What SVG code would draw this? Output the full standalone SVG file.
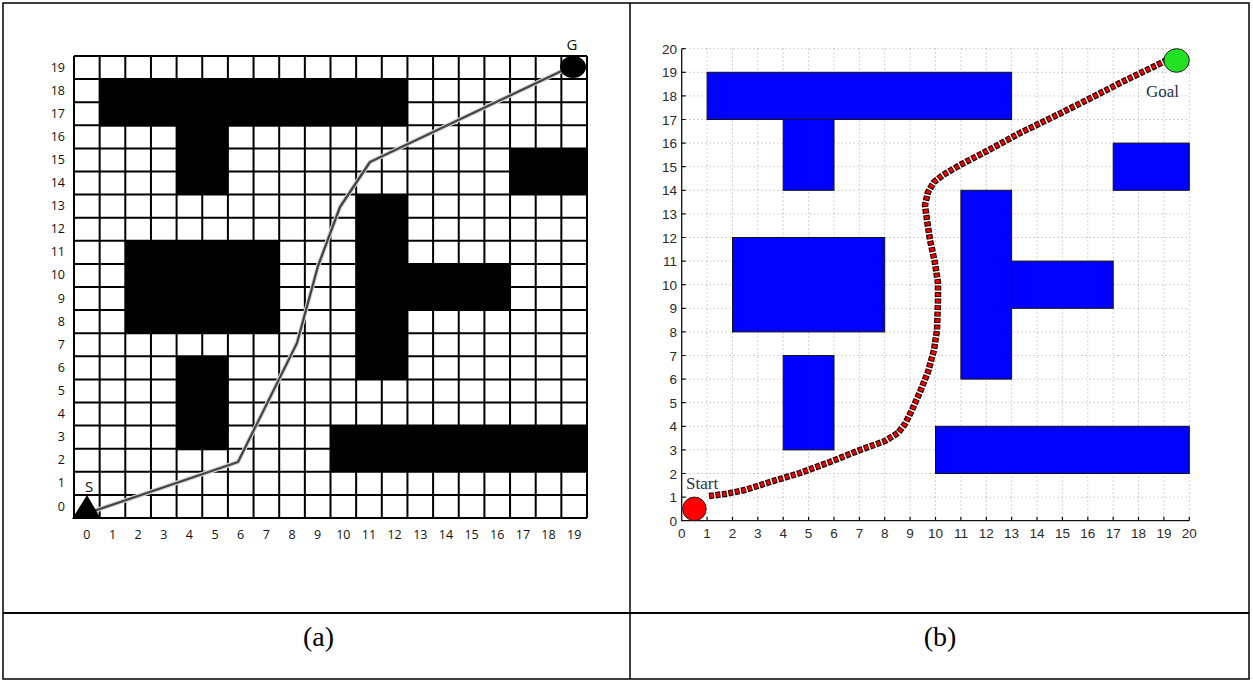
<svg xmlns="http://www.w3.org/2000/svg" width="1253" height="682" viewBox="0 0 1253 682">
<style>
.tbl{fill:none;stroke:#000;stroke-width:1.5}
.g{stroke:#000;stroke-width:2;fill:none}
.obs{fill:#000}
.lbl{font-family:"Open Sans","Liberation Sans",sans-serif;font-size:12.5px;fill:#111}
.big{font-size:15px}
.ax{font-family:"Liberation Sans",Arial,sans-serif;font-size:13.5px;fill:#2a2a2a}
.dot{stroke:#a8a8a8;stroke-width:1;stroke-dasharray:1 3;fill:none}
.blue{fill:#0000ff;stroke:#111;stroke-width:1}
.cap{font-family:"Liberation Serif","Times New Roman",serif;font-size:28px;fill:#000;text-anchor:middle}
.ser{font-family:"Liberation Serif","Times New Roman",serif;font-size:17px;fill:#26324a}
</style>
<rect x="0" y="0" width="1253" height="682" fill="#fff"/>
<g id="table">
<rect class="tbl" x="3" y="3" width="1246" height="676"/>
<line class="tbl" x1="630" y1="3" x2="630" y2="679"/>
<line x1="3" y1="613" x2="1249" y2="613" stroke="#000" stroke-width="2.2"/>
<text class="cap" x="318.5" y="646">(a)</text>
<text class="cap" x="940" y="646">(b)</text>
</g>
<g id="grid-a">
<path class="g" d="M74 56V518M99.65 56V518M125.3 56V518M150.95 56V518M176.6 56V518M202.25 56V518M227.9 56V518M253.55 56V518M279.2 56V518M304.85 56V518M330.5 56V518M356.15 56V518M381.8 56V518M407.45 56V518M433.1 56V518M458.75 56V518M484.4 56V518M510.05 56V518M535.7 56V518M561.35 56V518M587 56V518
M74 56H587M74 79.1H587M74 102.2H587M74 125.3H587M74 148.4H587M74 171.5H587M74 194.6H587M74 217.7H587M74 240.8H587M74 263.9H587M74 287H587M74 310.1H587M74 333.2H587M74 356.3H587M74 379.4H587M74 402.5H587M74 425.6H587M74 448.7H587M74 471.8H587M74 494.9H587M74 518H587"/>
</g>
<g id="obstacles-a">
<rect class="obs" x="99.65" y="79.1" width="307.8" height="47.5"/>
<rect class="obs" x="176.6" y="125.3" width="51.3" height="69.3"/>
<rect class="obs" x="510.05" y="148.4" width="76.95" height="46.2"/>
<rect class="obs" x="125.3" y="240.8" width="153.9" height="92.4"/>
<rect class="obs" x="356.15" y="194.6" width="51.3" height="184.8"/>
<rect class="obs" x="407.45" y="263.9" width="102.6" height="46.2"/>
<rect class="obs" x="176.6" y="356.3" width="51.3" height="94"/>
<rect class="obs" x="330.5" y="425.6" width="256.5" height="46.2"/>
</g>
<g id="labels-a" class="lbl">
<g text-anchor="end">
<text x="65" y="72">19</text><text x="65" y="95">18</text><text x="65" y="118">17</text><text x="65" y="141">16</text><text x="65" y="164">15</text><text x="65" y="187">14</text><text x="65" y="210">13</text><text x="65" y="233">12</text><text x="65" y="256">11</text><text x="65" y="279">10</text><text x="65" y="302.5">9</text><text x="65" y="325.5">8</text><text x="65" y="348.5">7</text><text x="65" y="371.5">6</text><text x="65" y="395">5</text><text x="65" y="418">4</text><text x="65" y="441">3</text><text x="65" y="464">2</text><text x="65" y="487">1</text><text x="65" y="510.5">0</text>
</g>
<g text-anchor="middle">
<text x="86.8" y="539">0</text><text x="112.5" y="539">1</text><text x="138.1" y="539">2</text><text x="163.8" y="539">3</text><text x="189.4" y="539">4</text><text x="215.1" y="539">5</text><text x="240.7" y="539">6</text><text x="266.4" y="539">7</text><text x="292" y="539">8</text><text x="317.7" y="539">9</text><text x="343.3" y="539">10</text><text x="369" y="539">11</text><text x="394.6" y="539">12</text><text x="420.3" y="539">13</text><text x="445.9" y="539">14</text><text x="471.6" y="539">15</text><text x="497.2" y="539">16</text><text x="522.9" y="539">17</text><text x="548.5" y="539">18</text><text x="574.2" y="539">19</text>
</g>
</g>
<g id="path-a">
<polyline points="88,513 238,462 297,343 318,266 340,207 370,162 570,67" fill="none" stroke="#d8d8d8" stroke-width="4.5" stroke-linejoin="round"/>
<polyline points="88,513 238,462 297,343 318,266 340,207 370,162 570,67" fill="none" stroke="#444" stroke-width="2.3" stroke-linejoin="round"/>
</g>
<g id="start-a">
<polygon points="87,495 72,519 101,519" fill="#000"/>
<text class="lbl big" x="89" y="492" text-anchor="middle">S</text>
</g>
<g id="goal-a">
<ellipse cx="573" cy="67" rx="13" ry="11" fill="#000"/>
<text class="lbl big" x="572" y="50" text-anchor="middle">G</text>
</g>
<g id="grid-b">
<path class="dot" d="M707.1 48.7V520.7M732.5 48.7V520.7M757.8 48.7V520.7M783.2 48.7V520.7M808.6 48.7V520.7M834 48.7V520.7M859.4 48.7V520.7M884.7 48.7V520.7M910.1 48.7V520.7M935.5 48.7V520.7M960.9 48.7V520.7M986.3 48.7V520.7M1011.6 48.7V520.7M1037 48.7V520.7M1062.4 48.7V520.7M1087.8 48.7V520.7M1113.2 48.7V520.7M1138.5 48.7V520.7M1163.9 48.7V520.7M1189.3 48.7V520.7
M681.7 497.1H1189.3M681.7 473.5H1189.3M681.7 449.9H1189.3M681.7 426.3H1189.3M681.7 402.7H1189.3M681.7 379.1H1189.3M681.7 355.5H1189.3M681.7 331.9H1189.3M681.7 308.3H1189.3M681.7 284.7H1189.3M681.7 261.1H1189.3M681.7 237.5H1189.3M681.7 213.9H1189.3M681.7 190.3H1189.3M681.7 166.7H1189.3M681.7 143.1H1189.3M681.7 119.5H1189.3M681.7 95.9H1189.3M681.7 72.3H1189.3M681.7 48.7H1189.3"/>
</g>
<g id="obstacles-b">
<rect class="blue" x="707.1" y="72.3" width="304.5" height="47.2"/>
<rect class="blue" x="783.2" y="119.5" width="50.8" height="70.8"/>
<rect class="blue" x="732.5" y="237.5" width="152.2" height="94.4"/>
<rect class="blue" x="783.2" y="355.5" width="50.8" height="94.4"/>
<rect class="blue" x="960.9" y="190.3" width="50.7" height="188.8"/>
<rect class="blue" x="1011.6" y="261.1" width="101.6" height="47.2"/>
<rect class="blue" x="1113.2" y="143.1" width="76.1" height="47.2"/>
<rect class="blue" x="935.5" y="426.3" width="253.8" height="47.2"/>
</g>
<g id="axes-b">
<path d="M681.7 48.7V520.7H1189.3" fill="none" stroke="#111" stroke-width="1.3"/>
<path d="M681.7 497.1h4M681.7 473.5h4M681.7 449.9h4M681.7 426.3h4M681.7 402.7h4M681.7 379.1h4M681.7 355.5h4M681.7 331.9h4M681.7 308.3h4M681.7 284.7h4M681.7 261.1h4M681.7 237.5h4M681.7 213.9h4M681.7 190.3h4M681.7 166.7h4M681.7 143.1h4M681.7 119.5h4M681.7 95.9h4M681.7 72.3h4M681.7 48.7h4
M707.1 520.7v-4M732.5 520.7v-4M757.8 520.7v-4M783.2 520.7v-4M808.6 520.7v-4M834 520.7v-4M859.4 520.7v-4M884.7 520.7v-4M910.1 520.7v-4M935.5 520.7v-4M960.9 520.7v-4M986.3 520.7v-4M1011.6 520.7v-4M1037 520.7v-4M1062.4 520.7v-4M1087.8 520.7v-4M1113.2 520.7v-4M1138.5 520.7v-4M1163.9 520.7v-4M1189.3 520.7v-4" stroke="#111" stroke-width="1.2"/>
<g class="ax" text-anchor="end">
<text x="677" y="525.5">0</text><text x="677" y="502">1</text><text x="677" y="478.5">2</text><text x="677" y="455">3</text><text x="677" y="431">4</text><text x="677" y="407.5">5</text><text x="677" y="384">6</text><text x="677" y="360.5">7</text><text x="677" y="337">8</text><text x="677" y="313">9</text><text x="677" y="289.5">10</text><text x="677" y="266">11</text><text x="677" y="242.5">12</text><text x="677" y="219">13</text><text x="677" y="195">14</text><text x="677" y="171.5">15</text><text x="677" y="148">16</text><text x="677" y="124.5">17</text><text x="677" y="101">18</text><text x="677" y="77">19</text><text x="677" y="53.5">20</text>
</g>
<g class="ax" text-anchor="middle">
<text x="681.7" y="538">0</text><text x="707.1" y="538">1</text><text x="732.5" y="538">2</text><text x="757.8" y="538">3</text><text x="783.2" y="538">4</text><text x="808.6" y="538">5</text><text x="834" y="538">6</text><text x="859.4" y="538">7</text><text x="884.7" y="538">8</text><text x="910.1" y="538">9</text><text x="935.5" y="538">10</text><text x="960.9" y="538">11</text><text x="986.3" y="538">12</text><text x="1011.6" y="538">13</text><text x="1037" y="538">14</text><text x="1062.4" y="538">15</text><text x="1087.8" y="538">16</text><text x="1113.2" y="538">17</text><text x="1138.5" y="538">18</text><text x="1163.9" y="538">19</text><text x="1189.3" y="538">20</text>
</g>
</g>
<g id="path-b">
<polyline points="709,496 725,494 745,490 770,482 800,473 830,462 860,450 885,441 898,433 905,424 912,410 920,392 928,372 934,350 937,330 938,300 938,283 935,263 930,240 927,220 925,205 928,192 934,182 943,175 960,165 987,151 1020,133 1053,117 1087,100 1120,83 1153,67 1167,60" fill="none" stroke="#300000" stroke-width="6.5" stroke-dasharray="5 1.5" stroke-linejoin="round"/>
<polyline points="709,496 725,494 745,490 770,482 800,473 830,462 860,450 885,441 898,433 905,424 912,410 920,392 928,372 934,350 937,330 938,300 938,283 935,263 930,240 927,220 925,205 928,192 934,182 943,175 960,165 987,151 1020,133 1053,117 1087,100 1120,83 1153,67 1167,60" fill="none" stroke="#f00000" stroke-width="4" stroke-dasharray="3.2 3.3" stroke-dashoffset="-0.9" stroke-linejoin="round"/>
</g>
<g id="start-b">
<circle cx="694.4" cy="508.9" r="11.8" fill="#ff0000" stroke="#222" stroke-width="1"/>
<text class="ser" x="686" y="489">Start</text>
</g>
<g id="goal-b">
<ellipse cx="1176.6" cy="60.5" rx="12.7" ry="11.8" fill="#22e022" stroke="#222" stroke-width="1"/>
<text class="ser" x="1146" y="97">Goal</text>
</g>
</svg>
